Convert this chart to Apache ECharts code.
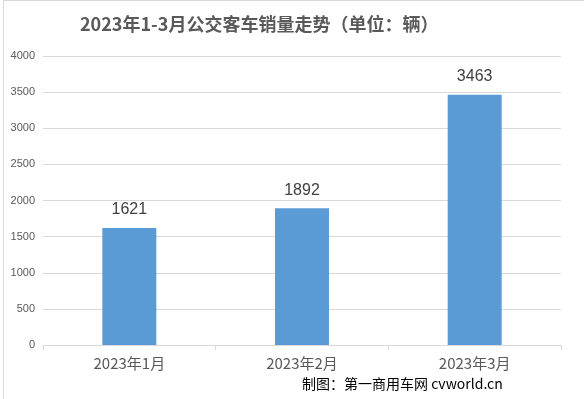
<!DOCTYPE html>
<html>
<head>
<meta charset="utf-8">
<script src="https://cdn.jsdelivr.net/npm/echarts@6/dist/echarts.min.js"></script>
<style>
html, body { margin: 0; padding: 0; background: #fff; }
#main { width: 584px; height: 399px; }
</style>
</head>
<body>
<div id="main"></div>
<script>
// 数据
var months = ['2023年1月', '2023年2月', '2023年3月'];
var sales = [1621, 1892, 3463];

var myChart = echarts.init(document.getElementById('main'));

var option = {
    backgroundColor: '#fff',
    title: {
        text: '2023年1-3月公交客车销量走势（单位：辆）',
        left: 75,
        top: 10,
        textStyle: {
            fontFamily: 'Noto Sans CJK SC',
            fontSize: 18,
            fontWeight: 'bold',
            color: '#595959'
        }
    },
    grid: {
        left: 43,
        right: 23,
        top: 56,
        bottom: 54
    },
    xAxis: {
        type: 'category',
        data: months,
        axisLine: { lineStyle: { color: '#d9d9d9' } },
        axisTick: { show: true, length: 5, lineStyle: { color: '#d9d9d9' } },
        axisLabel: {
            color: '#595959',
            fontSize: 15,
            margin: 11,
            fontFamily: 'Noto Sans CJK SC'
        }
    },
    yAxis: {
        type: 'value',
        min: 0,
        max: 4000,
        interval: 500,
        axisLine: { show: false },
        axisTick: { show: false },
        splitLine: { lineStyle: { color: '#d9d9d9' } },
        axisLabel: {
            color: '#595959',
            fontSize: 11,
            margin: 8,
            fontFamily: 'Liberation Sans',
            formatter: function (v) { return String(v); }
        }
    },
    series: [{
        name: '销量',
        type: 'bar',
        data: sales,
        barWidth: 54,
        itemStyle: { color: '#5b9bd5' },
        label: {
            show: true,
            position: 'top',
            distance: 10,
            color: '#404040',
            fontSize: 16,
            fontFamily: 'Liberation Sans'
        }
    }],
    graphic: [
        {
            type: 'rect',
            left: 1,
            top: -2,
            shape: { width: 581, height: 399 },
            style: { fill: 'none', stroke: '#d9d9d9', lineWidth: 1 },
            silent: true
        },
        {
            type: 'text',
            left: 302,
            top: 377,
            style: {
                text: '制图：第一商用车网 cvworld.cn',
                fill: '#000',
                fontSize: 14,
                fontFamily: 'Noto Sans CJK SC'
            }
        }
    ]
};

myChart.setOption(option);
</script>
</body>
</html>
